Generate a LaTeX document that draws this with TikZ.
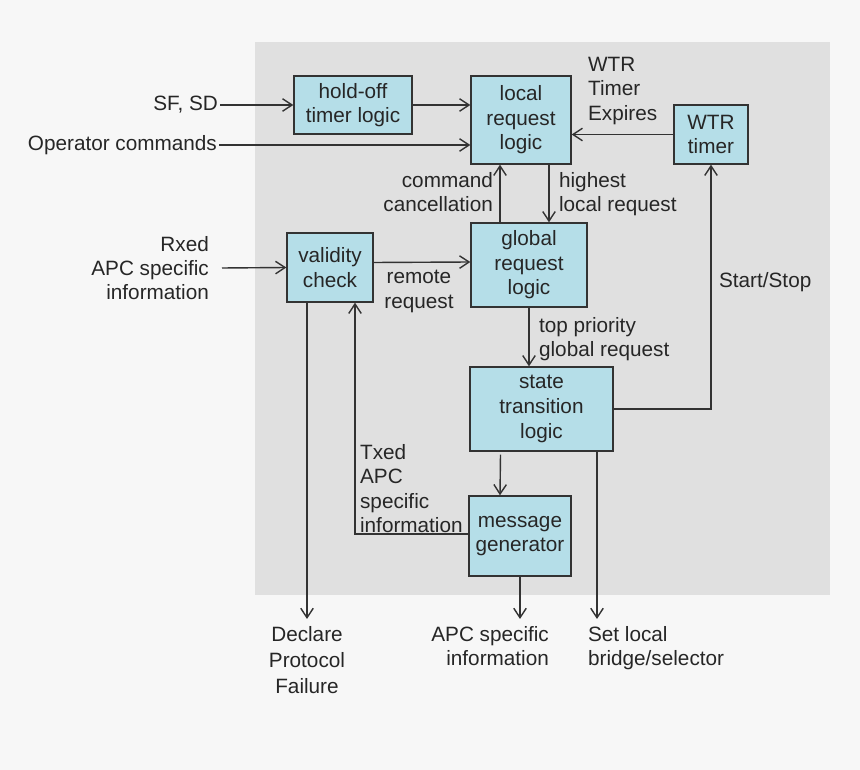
\documentclass[tikz,border=0pt]{standalone}
\usepackage{fontspec}
\setmainfont{Liberation Sans}
\usepackage{tikz}
\usetikzlibrary{positioning,arrows.meta,calc}
\definecolor{pagebg}{HTML}{F7F7F7}
\definecolor{panelgray}{HTML}{E0E0E0}
\definecolor{boxblue}{HTML}{B5DEE8}
\definecolor{linegray}{HTML}{333333}

\begin{document}
\begin{tikzpicture}[x=0.02cm, y=-0.02cm,
  font=\fontsize{11.8}{14}\selectfont,
  blk/.style={draw=linegray, fill=boxblue, line width=0.8pt, align=center, inner sep=1pt, text=black!85},
  arr/.style={draw=linegray, line width=0.8pt, -{Straight Barb[length=1.9mm,width=2.5mm]}},
  txt/.style={inner sep=1pt, text=black!85}]
% Page and shaded area
\fill[pagebg] (0,0) rectangle (860,770);
\useasboundingbox (0,0) rectangle (860,770);
\fill[panelgray] (255,42) rectangle (830,595);

% Blocks
\foreach \n/\x/\y/\w/\h/\t in {
    hold/353/105/2.36/1.16/{hold-off\\timer logic},
    local/521/120/2.00/1.76/{local\\request\\logic},
    wtr/711/134.5/1.48/1.18/{WTR\\timer},
    valid/330/267.5/1.72/1.38/{validity\\check},
    global/529/265/2.32/1.68/{global\\request\\logic},
    state/541.5/409/2.86/1.68/{state\\transition\\logic},
    msg/520/536/2.04/1.60/{message\\generator}} {
    \node[blk, minimum width=\w cm, minimum height=\h cm] (\n) at (\x,\y) {\t};
}

% Inputs and outputs
\node[txt, anchor=east] (sfsd) at (220,105) {SF, SD};
\node[txt, anchor=east] (opcmd) at (219,145) {Operator commands};
\node[txt, anchor=east, align=right, font=\fontsize{11.8}{13.5}\selectfont] (rxed) at (211,268) {Rxed\\APC specific\\information};
\node[txt, anchor=north, align=center, font=\fontsize{11.8}{15}\selectfont] (declare) at (307,624) {Declare\\Protocol\\Failure};
\node[txt, anchor=north east, align=right] (apc) at (551,624) {APC specific\\information};
\node[txt, anchor=north west, align=left] (setloc) at (586,624) {Set local\\bridge/selector};
\coordinate (out) at (0,619);

% Connector labels
\node[txt, anchor=north west, align=left] (wtrlbl) at (586,55) {WTR\\Timer\\Expires};
\node[txt, anchor=north east, align=right] (cclbl) at (495,170) {command\\cancellation};
\node[txt, anchor=north west, align=left] (hllbl) at (557,170) {highest\\local request};
\node[txt, anchor=north, align=center] (rrlbl) at (419,268) {remote\\request};
\node[txt, anchor=north west, align=left] (tplbl) at (537,315) {top priority\\global request};
\node[txt, anchor=west] (sslbl) at (717,282) {Start/Stop};
\node[txt, anchor=north west, align=left] (txlbl) at (358,442) {Txed\\APC\\specific\\information};

% Connectors
\draw[arr] (sfsd.east) -- (sfsd.east -| hold.west);
\draw[arr] (hold.east) -- (hold.east -| local.west);
\draw[arr] (opcmd.east) -- (opcmd.east -| local.west);
\draw[arr] (wtr.west) -- (wtr.west -| local.east);
\draw[arr] ($(global.north)+(-29,0)$) -- ($(local.south)+(-21,0)$);
\draw[arr] ($(local.south)+(28,0)$) -- ($(global.north)+(20,0)$);
\draw[arr] ($(rxed.east)+(11,0)$) -- (valid.west);
\draw[arr] ($(valid.east)+(0,-5)$) -- ($(global.west)+(0,-3)$);
\draw[arr] (global.south) -- (global.south |- state.north);
\draw[arr] (state.east) -| (wtr.south);
\draw[arr] ($(state.south)+(-41,3)$) -- ($(msg.north)+(-20,0)$);
\draw[arr] ($(msg.west)+(0,-2)$) -| ($(valid.south)+(25,0)$);
\draw[arr] (valid.south -| declare.north) -- (declare.north |- out);
\draw[arr] (msg.south) -- (msg.south |- out);
\coordinate (stout) at ($(state.south)+(55.5,0)$);
\draw[arr] (stout) -- (stout |- out);
\end{tikzpicture}
\end{document}
